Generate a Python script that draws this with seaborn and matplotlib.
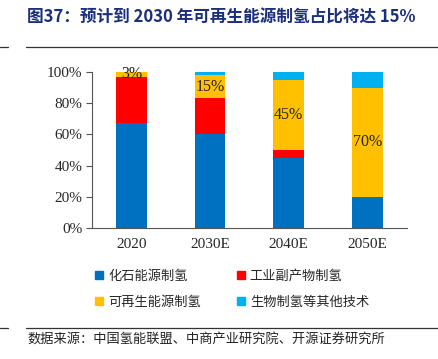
import numpy as np
import pandas as pd
import seaborn as sns
import matplotlib.pyplot as plt
from matplotlib.lines import Line2D

# data
years = ['2020', '2030E', '2040E', '2050E']
fossil = [67, 60, 45, 20]
industrial = [30, 23, 5, 0]
renewable = [3, 15, 45, 70]
other = [0, 2, 5, 10]

names = ['化石能源制氢', '工业副产物制氢', '可再生能源制氢', '生物制氢等其他技术']
colors = ['#0070C0', '#FF0000', '#FFC000', '#00B0F0']

sns.set_style('white')
plt.rcParams['font.family'] = ['Liberation Serif', 'Noto Sans CJK SC']
cjk = ['Noto Sans CJK SC', 'DejaVu Sans']

fig = plt.figure(figsize=(4.38, 3.59), dpi=100)
ax = fig.add_axes([0.21, 0.365, 0.719, 0.4345])

df = pd.DataFrame({'year': years, 'fossil': fossil, 'industrial': industrial,
                   'renewable': renewable, 'other': other})
df['c1'] = df['fossil']
df['c2'] = df['c1'] + df['industrial']
df['c3'] = df['c2'] + df['renewable']
df['c4'] = df['c3'] + df['other']

# stacked by overlaying cumulative totals, biggest first
for col, c in zip(['c4', 'c3', 'c2', 'c1'], colors[::-1]):
    sns.barplot(data=df, x='year', y=col, color=c, width=0.39, linewidth=0,
                saturation=1, ax=ax)

for i in range(len(years)):
    mid = df['c2'][i] + renewable[i] / 2
    ax.text(i, mid, f'{renewable[i]}%', ha='center', va='center',
            fontsize=11.5, color='#222222')

ax.set_xlim(-0.5, 3.5)
ax.set_ylim(0, 100)
ax.set_yticks(np.arange(0, 101, 20))
ax.set_yticklabels([f'{v}%' for v in range(0, 101, 20)], fontsize=11)
ax.set_xticks(range(4))
ax.set_xticklabels(years, fontsize=11)
ax.set_xticks([-0.5, 0.5, 1.5, 2.5, 3.5], minor=True)
ax.tick_params(axis='x', which='major', length=0, pad=7)
ax.tick_params(axis='x', which='minor', direction='out', length=4, color='#555555')
ax.tick_params(axis='y', direction='out', length=4, color='#555555', left=True, pad=3)
ax.set_xlabel('')
ax.set_ylabel('')
for s in ['top', 'right']:
    ax.spines[s].set_visible(False)
for s in ['left', 'bottom']:
    ax.spines[s].set_color('#555555')
    ax.spines[s].set_linewidth(0.8)

# legend fills column-wise, so reorder to get the reference row layout
order = [0, 2, 1, 3]
handles = [Line2D([], [], marker='s', linestyle='', color=colors[k], markersize=6) for k in order]
labels = [names[k] for k in order]
fig.legend(handles, labels, ncol=2, loc='center left', bbox_to_anchor=(0.19, 0.194),
           frameon=False, handlelength=0.6, handletextpad=0.4, columnspacing=2.7,
           labelspacing=1.0, prop={'family': cjk, 'size': 9.5})

fig.text(0.062, 0.952, '图37：预计到 2030 年可再生能源制氢占比将达 15%', fontsize=12,
         fontweight='bold', color='#1B2F7A', family=cjk, va='center')
fig.add_artist(Line2D([0.06, 1.0], [0.869, 0.869], color='#333333', lw=0.9))
fig.add_artist(Line2D([0.0, 0.018], [0.869, 0.869], color='#333333', lw=0.9))
fig.add_artist(Line2D([0.06, 1.0], [0.086, 0.086], color='#333333', lw=0.9))
fig.add_artist(Line2D([0.0, 0.018], [0.086, 0.086], color='#333333', lw=0.9))
fig.text(0.062, 0.052, '数据来源：中国氢能联盟、中商产业研究院、开源证券研究所', fontsize=9.5,
         color='#222222', family=cjk, va='center')

plt.savefig('out.png', dpi=100)
